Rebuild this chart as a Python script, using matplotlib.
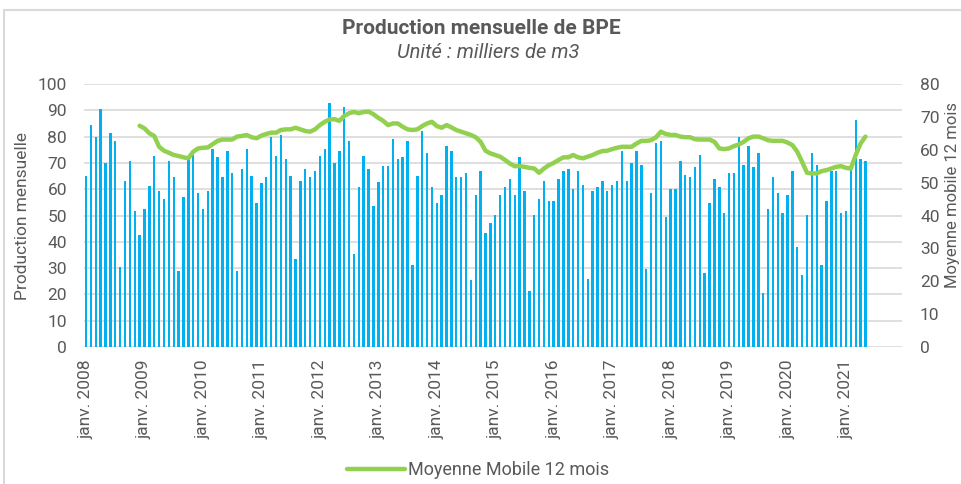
import matplotlib
matplotlib.use("Agg")
import matplotlib.pyplot as plt
from matplotlib.patches import Rectangle
from matplotlib.lines import Line2D

# Production mensuelle (milliers de m3), janv. 2008 -> mai 2021
production = [
    65.2, 84.3, 79.7, 90.4, 69.9, 81.2, 78.2, 30.5, 63.1, 70.7, 51.6, 42.5,  # 2008
    52.4, 61.4, 72.8, 59.3, 56.2, 70.7, 64.6, 28.9, 57.0, 72.0, 73.0, 58.5,  # 2009
    52.4, 59.3, 75.3, 72.2, 64.6, 74.5, 66.1, 28.9, 67.5, 75.1, 65.2, 54.7,  # 2010
    62.2, 64.5, 79.7, 72.8, 80.6, 71.3, 65.2, 33.5, 63.1, 67.5, 64.6, 66.8,  # 2011
    72.8, 75.1, 92.6, 69.9, 74.4, 91.1, 78.2, 35.2, 60.7, 72.8, 67.5, 53.8,  # 2012
    62.9, 69.0, 69.0, 78.9, 71.3, 72.1, 78.3, 31.3, 65.2, 82.0, 73.7, 60.7,  # 2013
    54.7, 57.7, 76.6, 74.5, 64.6, 64.6, 66.0, 25.3, 57.7, 66.9, 43.4, 47.2,  # 2014
    50.1, 57.7, 60.8, 63.8, 57.7, 72.1, 59.3, 21.4, 50.1, 56.2, 63.1, 55.5,  # 2015
    55.5, 63.8, 66.9, 67.6, 60.0, 66.9, 61.5, 26.0, 59.3, 60.8, 63.1, 59.3,  # 2016
    61.5, 63.1, 74.4, 63.1, 69.9, 74.5, 69.2, 29.8, 58.5, 77.5, 78.3, 49.4,  # 2017
    60.0, 60.0, 70.7, 65.4, 64.6, 68.4, 73.0, 28.3, 54.7, 63.8, 60.8, 50.9,  # 2018
    66.1, 66.1, 79.8, 69.2, 76.6, 68.4, 73.7, 20.7, 52.4, 64.6, 58.5, 50.9,  # 2019
    57.7, 66.9, 38.2, 27.5, 50.1, 73.7, 69.2, 31.3, 55.5, 66.9, 66.9, 50.9,  # 2020
    51.6, 67.6, 86.5, 71.4, 70.7,                                            # 2021
]

# Moyenne mobile 12 mois, de déc. 2008 à mai 2021
ma_start = 11
moyenne_mobile = [
    67.3, 66.5, 65.0, 64.2, 60.9, 59.7, 59.1, 58.4, 58.1, 57.7, 57.4, 59.4,
    60.4, 60.6, 60.7, 61.7, 62.7, 63.1, 63.1, 63.1, 64.0,
    64.2, 64.5, 63.8, 63.5, 64.3, 64.8, 65.2, 65.2, 66.0, 66.2, 66.2, 66.7,
    66.2, 65.7, 65.5, 66.2,
    67.5, 68.5, 69.2, 69.3, 68.8, 70.3, 71.1, 71.5, 71.1, 71.5, 71.6, 70.8,
    69.7, 68.8, 67.5, 68.0, 68.0, 67.0, 66.2, 66.0, 66.2, 67.2, 68.0, 68.5,
    67.2, 66.7, 67.5, 66.8, 66.0, 65.5, 65.0, 64.5, 63.8, 62.4, 59.7, 58.9,
    58.4, 57.9, 56.9, 55.8, 55.0, 55.0, 54.8, 54.5, 54.3, 53.0, 54.3, 55.3,
    56.0, 56.9, 57.7, 57.7, 58.4, 57.7, 57.4, 57.9, 58.4, 59.1, 59.6, 59.7,
    60.2, 60.6, 60.9, 60.9, 60.9, 61.9, 62.7, 62.7, 62.9, 63.8, 65.5, 64.8,
    64.5, 64.5, 64.0, 63.8, 63.8, 63.2, 63.1, 63.1, 63.1, 62.4, 60.4, 60.2,
    60.4, 61.1, 61.6, 62.4, 63.5, 64.0, 64.0, 63.5, 62.9, 62.7, 62.7, 62.7,
    62.2, 61.4, 59.4, 56.3, 53.0, 52.8, 52.8, 53.5, 53.8, 54.3, 54.8, 55.0,
    54.5, 54.3, 58.4, 61.9, 64.0,
]

years = list(range(2008, 2022))
year_labels = [f"janv. {y}" for y in years]

text_col = "#595959"
grid_col = "#D9D9D9"
plt.rcParams["font.family"] = ["Roboto", "DejaVu Sans"]

fig = plt.figure(figsize=(9.61, 4.84), dpi=100)
ax = fig.add_axes([83.6 / 961, 1 - 347 / 484, (902 - 83.6) / 961, (347 - 84) / 484])
ax2 = ax.twinx()

x = list(range(len(production)))
ax.bar(x, production, width=0.5, color="#00B0F0", zorder=2)
ax.set_ylim(0, 100)
ax.set_yticks(range(0, 101, 10))
ax.set_xlim(-0.5, 167.5)
ax.set_xticks([12 * i for i in range(len(years))])
ax.set_xticklabels(year_labels, rotation=90)
ax.grid(axis="y", color=grid_col, lw=1.2, zorder=0)
ax.set_axisbelow(True)

xm = list(range(ma_start, ma_start + len(moyenne_mobile)))
ax2.plot(xm, moyenne_mobile, color="#92D050", lw=3.2, solid_capstyle="round",
         solid_joinstyle="round", zorder=3)
ax2.set_ylim(0, 80)
ax2.set_yticks(range(0, 81, 10))

for a in (ax, ax2):
    for s in a.spines.values():
        s.set_visible(False)
    a.tick_params(length=0, labelsize=12.5, colors=text_col)
ax.tick_params(axis="x", pad=9)
ax.tick_params(axis="y", pad=12)
ax2.tick_params(axis="y", pad=13)

ax.set_ylabel("Production mensuelle", fontsize=12.5, color=text_col)
ax.yaxis.set_label_coords(-0.066, 0.5)
fig.text(952 / 961, 1 - 195 / 484, "Moyenne mobile 12 mois", rotation=90,
         ha="center", va="center", fontsize=12, color=text_col)

fig.text(481 / 961, 1 - 28 / 484, "Production mensuelle de BPE", ha="center",
         va="center", fontsize=15, fontweight="bold", color=text_col)
fig.text(488 / 961, 1 - 53 / 484, "Unité : milliers de m3", ha="center",
         va="center", fontsize=14.5, style="italic", color=text_col)

handle = Line2D([], [], color="#92D050", lw=3.2, solid_capstyle="round")
fig.legend(handles=[handle], labels=["Moyenne Mobile 12 mois"], loc="center",
           bbox_to_anchor=(478 / 961, 1 - 470 / 484), frameon=False,
           fontsize=13, handlelength=3.2, handletextpad=0.2,
           labelcolor=text_col)

fig.patches.append(Rectangle((4 / 961, -0.1), 1.2, 1.1 - 10 / 484,
                             transform=fig.transFigure, fill=False,
                             edgecolor=grid_col, lw=1.5))

fig.savefig("out.png", dpi=100)
